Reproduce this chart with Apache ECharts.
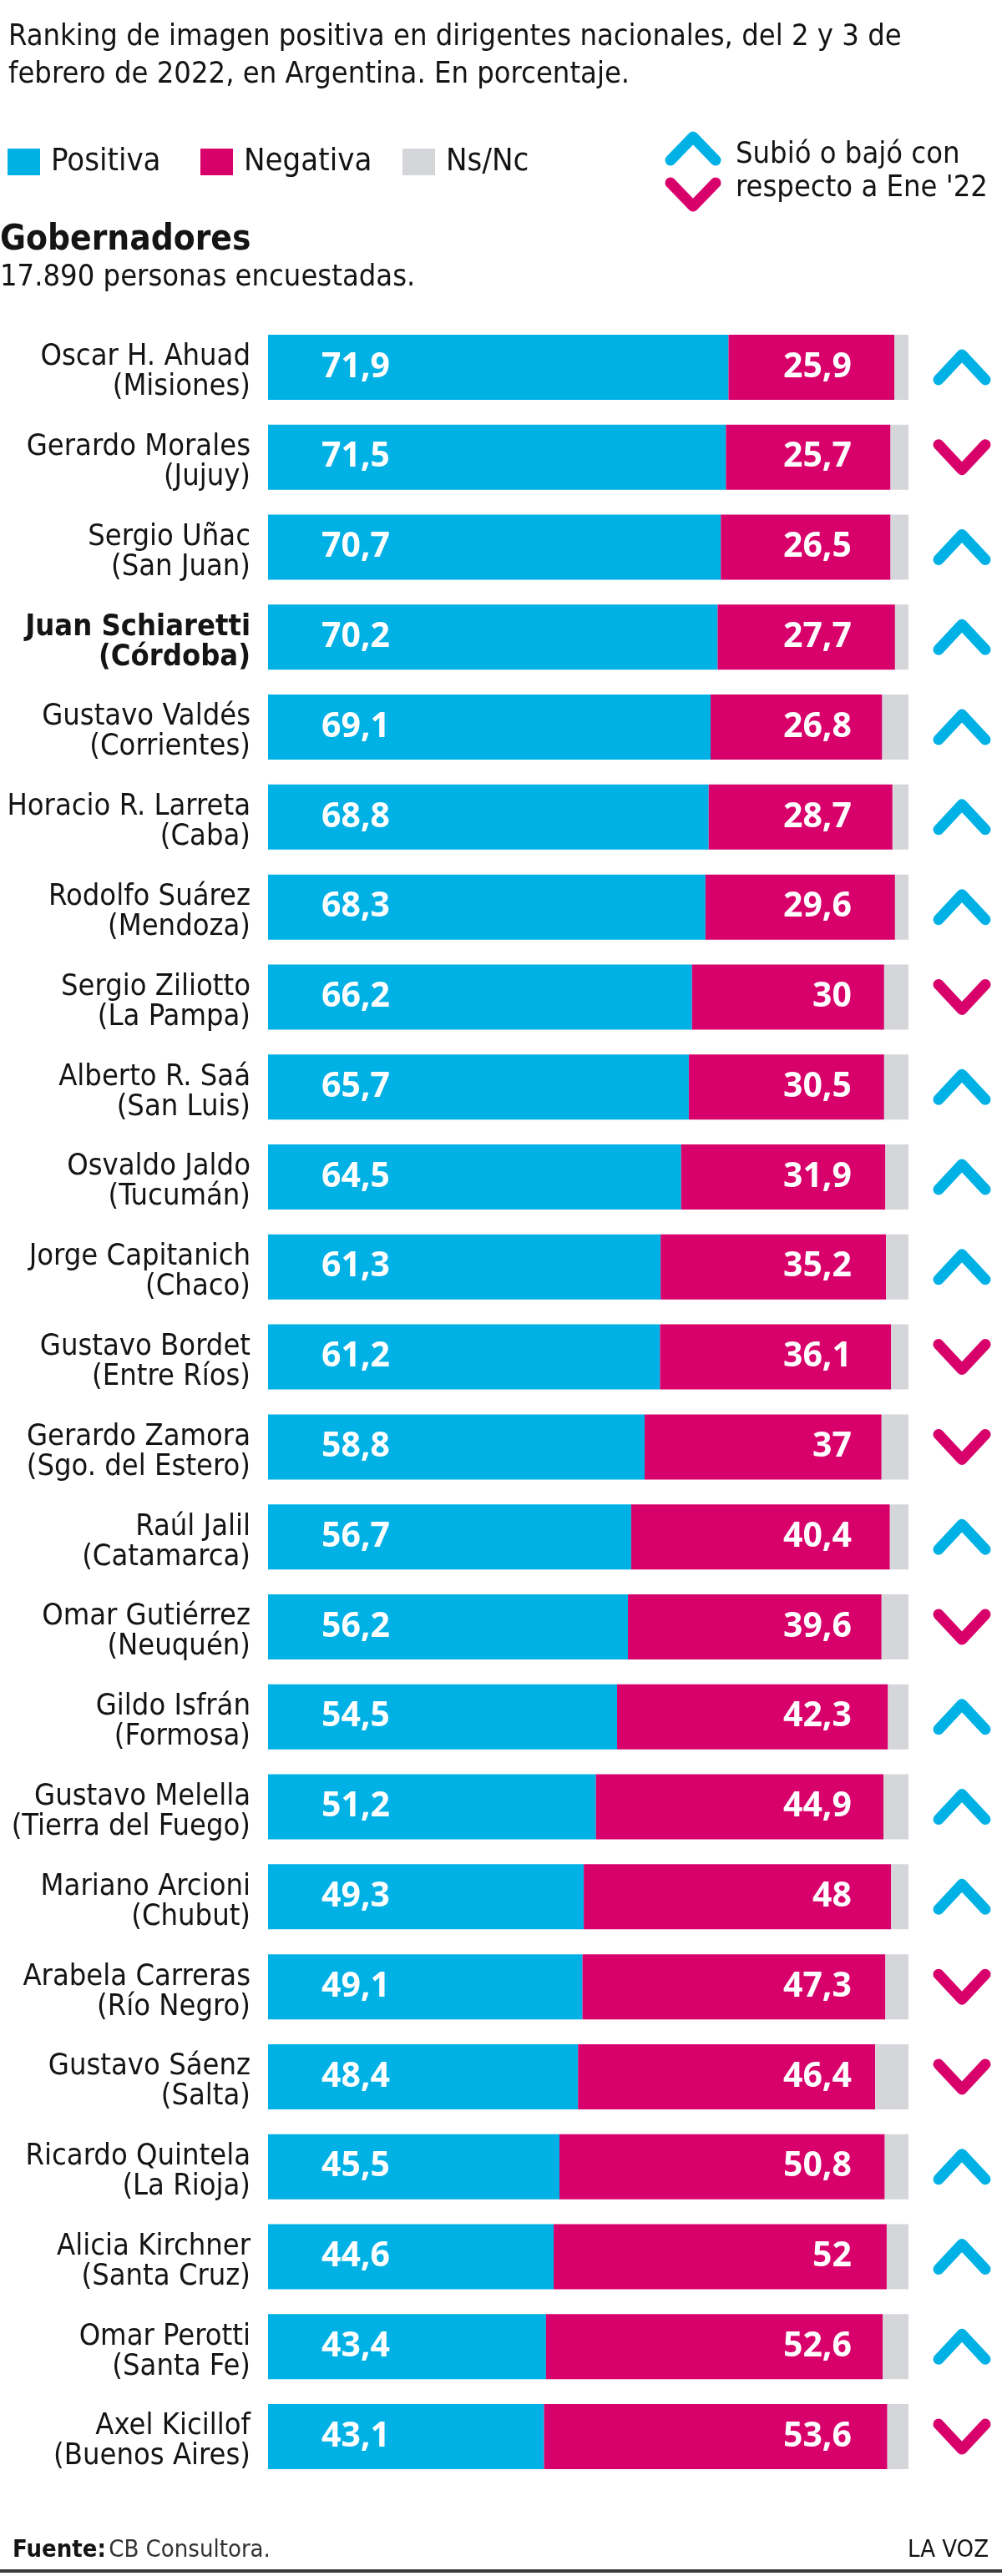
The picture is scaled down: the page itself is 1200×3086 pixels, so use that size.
<!DOCTYPE html>
<html>
<head>
<meta charset="utf-8">
<style>
  html, body { margin: 0; padding: 0; background: #ffffff; }
  #chart { width: 1200px; height: 3086px; }
</style>
<script src="https://cdn.jsdelivr.net/npm/echarts@6/dist/echarts.min.js"></script>
</head>
<body>
<div id="chart"></div>
<script>
// ---- Data ----
const names = [
  'Oscar H. Ahuad', 'Gerardo Morales', 'Sergio Uñac', 'Juan Schiaretti', 'Gustavo Valdés',
  'Horacio R. Larreta', 'Rodolfo Suárez', 'Sergio Ziliotto', 'Alberto R. Saá', 'Osvaldo Jaldo',
  'Jorge Capitanich', 'Gustavo Bordet', 'Gerardo Zamora', 'Raúl Jalil', 'Omar Gutiérrez',
  'Gildo Isfrán', 'Gustavo Melella', 'Mariano Arcioni', 'Arabela Carreras', 'Gustavo Sáenz',
  'Ricardo Quintela', 'Alicia Kirchner', 'Omar Perotti', 'Axel Kicillof'
];
const provinces = [
  'Misiones', 'Jujuy', 'San Juan', 'Córdoba', 'Corrientes',
  'Caba', 'Mendoza', 'La Pampa', 'San Luis', 'Tucumán',
  'Chaco', 'Entre Ríos', 'Sgo. del Estero', 'Catamarca', 'Neuquén',
  'Formosa', 'Tierra del Fuego', 'Chubut', 'Río Negro', 'Salta',
  'La Rioja', 'Santa Cruz', 'Santa Fe', 'Buenos Aires'
];
const positiva = [71.9, 71.5, 70.7, 70.2, 69.1, 68.8, 68.3, 66.2, 65.7, 64.5, 61.3, 61.2,
                  58.8, 56.7, 56.2, 54.5, 51.2, 49.3, 49.1, 48.4, 45.5, 44.6, 43.4, 43.1];
const negativa = [25.9, 25.7, 26.5, 27.7, 26.8, 28.7, 29.6, 30, 30.5, 31.9, 35.2, 36.1,
                  37, 40.4, 39.6, 42.3, 44.9, 48, 47.3, 46.4, 50.8, 52, 52.6, 53.6];
const nsnc     = [2.2, 2.8, 2.8, 2.1, 4.1, 2.5, 2.1, 3.8, 3.8, 3.6, 3.5, 2.7,
                  4.2, 2.9, 4.2, 3.2, 3.9, 2.7, 3.6, 5.2, 3.7, 3.4, 4.0, 3.3];
const trend    = ['up', 'down', 'up', 'up', 'up', 'up', 'up', 'down', 'up', 'up', 'up', 'down',
                  'down', 'up', 'down', 'up', 'up', 'up', 'down', 'down', 'up', 'up', 'up', 'down'];
const highlighted = ['Juan Schiaretti'];

// ---- Style ----
const C_POS = '#00b1e6';
const C_NEG = '#d8006b';
const C_NS = '#d5d6da';
const C_TXT = '#141414';
const NARROW = '"DejaVu Sans Condensed", "DejaVu Sans", sans-serif';
const NUMFONT = '"Open Sans", "Liberation Sans", sans-serif';

const fmt = v => String(v).replace('.', ',');

const chart = echarts.init(document.getElementById('chart'), null, { renderer: 'canvas' });

function chevron(cx, cy, dir, color, w, h, lw) {
  return {
    type: 'polyline',
    shape: { points: [[cx - w, cy + dir * h], [cx, cy - dir * h], [cx + w, cy + dir * h]] },
    style: { stroke: color, lineWidth: lw, lineCap: 'round', lineJoin: 'round', fill: null },
    silent: true
  };
}

const legendCommon = {
  top: 170, itemWidth: 39, itemHeight: 32, icon: 'rect', selectedMode: false,
  textStyle: { fontFamily: NARROW, fontSize: 38, color: C_TXT, padding: [0, 0, 0, 8] }
};

const option = {
  animation: false,
  title: {
    text: 'Ranking de imagen positiva en dirigentes nacionales, del 2 y 3 de\nfebrero de 2022, en Argentina. En porcentaje.',
    left: 5, top: 17,
    textStyle: { fontFamily: NARROW, fontSize: 36, fontWeight: 'normal', color: C_TXT, lineHeight: 45 }
  },
  legend: [
    Object.assign({ left: 4, data: ['Positiva'] }, legendCommon),
    Object.assign({ left: 235, data: ['Negativa'] }, legendCommon),
    Object.assign({ left: 477, data: ['Ns/Nc'] }, legendCommon)
  ],
  graphic: [
    chevron(830, 178, 1, C_POS, 27, 14, 13),
    chevron(830, 233, -1, C_NEG, 27, 14, 13),
    { type: 'text', silent: true, style: { x: 881, y: 186, text: 'Subió o bajó con', font: '36px ' + NARROW, fill: C_TXT, textVerticalAlign: 'middle' } },
    { type: 'text', silent: true, style: { x: 881, y: 226, text: "respecto a Ene '22", font: '36px ' + NARROW, fill: C_TXT, textVerticalAlign: 'middle' } },
    { type: 'text', silent: true, style: { x: 0, y: 288, text: 'Gobernadores', font: 'bold 42px ' + NARROW, fill: C_TXT, textVerticalAlign: 'middle' } },
    { type: 'text', silent: true, style: { x: 0, y: 333, text: '17.890 personas encuestadas.', font: '36px ' + NARROW, fill: C_TXT, textVerticalAlign: 'middle' } },
    { type: 'text', silent: true, style: {
        x: 15, y: 3055, text: '{b|Fuente:} {n|CB Consultora.}', textVerticalAlign: 'middle',
        rich: {
          b: { fontFamily: NARROW, fontWeight: 'bold', fontSize: 29, fill: C_TXT },
          n: { fontFamily: NARROW, fontSize: 29, fill: '#333' }
        }
      } },
    { type: 'text', silent: true, style: { x: 1184, y: 3055, text: 'LA VOZ', font: '29px ' + NARROW, fill: C_TXT, textAlign: 'right', textVerticalAlign: 'middle' } },
    { type: 'rect', silent: true, shape: { x: 0, y: 3078, width: 1200, height: 4 }, style: { fill: '#3a3a3a' } }
  ],
  grid: { left: 321, top: 386, width: 767, height: 2587, outerBoundsMode: 'none', containLabel: false },
  xAxis: { type: 'value', min: 0, max: 100, show: false },
  yAxis: {
    type: 'category', data: names, inverse: true,
    axisLine: { show: false }, axisTick: { show: false }, splitLine: { show: false },
    axisLabel: {
      margin: 21,
      padding: [12, 0, 0, 0],
      formatter: (v, i) => {
        const s = highlighted.indexOf(v) >= 0 ? 'b' : 'n';
        return '{' + s + '|' + v + '}\n{' + s + '|(' + provinces[i] + ')}';
      },
      rich: {
        n: { fontFamily: NARROW, fontSize: 36, lineHeight: 36, color: C_TXT, align: 'right' },
        b: { fontFamily: NARROW, fontSize: 36, lineHeight: 36, color: C_TXT, align: 'right', fontWeight: 'bold' }
      }
    }
  },
  series: [
    {
      name: 'Positiva', type: 'bar', stack: 'total', barWidth: 78, data: positiva,
      itemStyle: { color: C_POS }, emphasis: { disabled: true }, silent: true,
      label: {
        show: true, position: 'insideLeft', distance: 64,
        formatter: p => fmt(p.value),
        color: '#ffffff', fontFamily: NUMFONT, fontWeight: 'bold', fontSize: 41
      }
    },
    {
      name: 'Negativa', type: 'bar', stack: 'total', barWidth: 78, data: negativa,
      itemStyle: { color: C_NEG }, emphasis: { disabled: true }, silent: true
    },
    {
      name: 'Ns/Nc', type: 'bar', stack: 'total', barWidth: 78, data: nsnc,
      itemStyle: { color: C_NS }, emphasis: { disabled: true }, silent: true,
      label: {
        show: true, position: ['100%', '50%'], offset: [-68, 0], align: 'right', verticalAlign: 'middle',
        formatter: p => fmt(negativa[p.dataIndex]),
        color: '#ffffff', fontFamily: NUMFONT, fontWeight: 'bold', fontSize: 41
      }
    },
    {
      name: 'trend', type: 'custom', silent: true, clip: false,
      encode: { x: 0, y: 1 },
      data: trend.map((d, i) => [100, i, d === 'up' ? 1 : -1]),
      renderItem: (params, api) => {
        const pt = api.coord([api.value(0), api.value(1)]);
        const dir = api.value(2);
        return chevron(pt[0] + 64, pt[1], dir, dir > 0 ? C_POS : C_NEG, 28, 15, 13);
      }
    }
  ]
};

chart.setOption(option);
</script>
</body>
</html>
